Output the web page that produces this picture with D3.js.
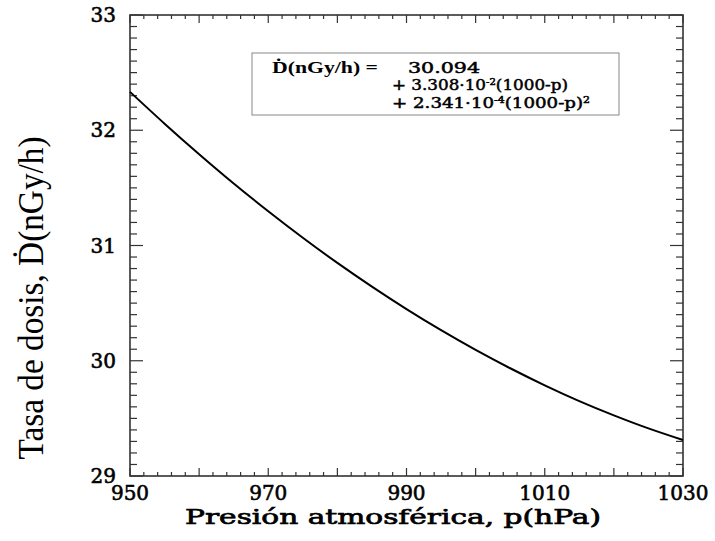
<!DOCTYPE html>
<html>
<head>
<meta charset="utf-8">
<script src="https://cdn.jsdelivr.net/npm/d3@7"></script>
<style>
  body { margin: 0; background: #fff; }
  svg { display: block; }
</style>
</head>
<body>
<div id="chart"></div>
<script>
// pressure (hPa) and dose rate (nGy/h)
const pressure = [950, 955, 960, 965, 970, 975, 980, 985, 990, 995, 1000, 1005, 1010, 1015, 1020, 1025, 1030];
const doseRate = [32.333, 32.057, 31.792, 31.538, 31.297, 31.067, 30.849, 30.643, 30.448, 30.265, 30.094, 29.935, 29.787, 29.650, 29.526, 29.413, 29.312];

const xLabels = [950, 970, 990, 1010, 1030];
const yLabels = [29, 30, 31, 32, 33];

const width = 715, height = 541;
const plotLeft = 130, plotRight = 683, plotTop = 15, plotBottom = 476;

const svg = d3.select("#chart").append("svg")
    .attr("width", width)
    .attr("height", height);

const x = d3.scaleLinear().domain([950, 1030]).range([plotLeft, plotRight]);
const y = d3.scaleLinear().domain([29, 33]).range([plotBottom, plotTop]);

const axisColor = "#333";

// ticks, all pointing inward
const xMinor = d3.range(950, 1031, 2);
const yMinor = d3.range(29, 33.001, 0.1).map(v => +v.toFixed(1));

function isMajorX(v) { return v % 10 === 0; }
function isMajorY(v) { return Math.abs(v - Math.round(v)) < 1e-6; }

const ticks = svg.append("g").attr("stroke", axisColor).attr("stroke-width", 1.2);

// bottom & top
ticks.selectAll(".xb").data(xMinor).enter().append("line")
    .attr("x1", d => x(d)).attr("x2", d => x(d))
    .attr("y1", plotBottom).attr("y2", d => plotBottom - (isMajorX(d) ? 8 : 4));
ticks.selectAll(".xt").data(xMinor).enter().append("line")
    .attr("x1", d => x(d)).attr("x2", d => x(d))
    .attr("y1", plotTop).attr("y2", d => plotTop + (isMajorX(d) ? 8 : 4));

// left & right
ticks.selectAll(".yl").data(yMinor).enter().append("line")
    .attr("y1", d => y(d)).attr("y2", d => y(d))
    .attr("x1", plotLeft).attr("x2", d => plotLeft + (isMajorY(d) ? 13 : 7));
ticks.selectAll(".yr").data(yMinor).enter().append("line")
    .attr("y1", d => y(d)).attr("y2", d => y(d))
    .attr("x1", plotRight).attr("x2", d => plotRight - (isMajorY(d) ? 13 : 7));

// frame
svg.append("rect")
    .attr("x", plotLeft).attr("y", plotTop)
    .attr("width", plotRight - plotLeft).attr("height", plotBottom - plotTop)
    .attr("fill", "none")
    .attr("stroke", axisColor)
    .attr("stroke-width", 1.6);

// tick labels (serif, semi-bold look via thin outline)
svg.append("g").selectAll("text")
    .data(xLabels).enter().append("text")
    .attr("x", d => x(d))
    .attr("y", 500)
    .attr("text-anchor", "middle")
    .attr("font-family", "DejaVu Serif")
    .attr("font-size", "20px")
    .attr("stroke", "#000")
    .attr("stroke-width", 0.6)
    .text(d => d);

svg.append("g").selectAll("text")
    .data(yLabels).enter().append("text")
    .attr("x", 116)
    .attr("y", d => y(d) + 7)
    .attr("text-anchor", "end")
    .attr("font-family", "DejaVu Serif")
    .attr("font-size", "20px")
    .attr("stroke", "#000")
    .attr("stroke-width", 0.6)
    .text(d => d);

// axis titles
svg.append("text")
    .attr("x", 393)
    .attr("y", 524)
    .attr("text-anchor", "middle")
    .attr("font-family", "DejaVu Serif")
    .attr("font-size", "21px")
    .attr("stroke", "#000")
    .attr("stroke-width", 0.7)
    .attr("textLength", 416)
    .attr("lengthAdjust", "spacingAndGlyphs")
    .text("Presión atmosférica, p(hPa)");

svg.append("text")
    .attr("transform", "translate(43,298) rotate(-90)")
    .attr("text-anchor", "middle")
    .attr("font-family", "Liberation Serif")
    .attr("font-size", "35px")
    .attr("textLength", 323)
    .attr("lengthAdjust", "spacingAndGlyphs")
    .text("Tasa de dosis, D\u0307(nGy/h)");

// curve
const line = d3.line()
    .x((d, i) => x(pressure[i]))
    .y(d => y(d))
    .curve(d3.curveNatural);

svg.append("path")
    .datum(doseRate)
    .attr("fill", "none")
    .attr("stroke", "#000")
    .attr("stroke-width", 2)
    .attr("d", line);

// formula box
svg.append("rect")
    .attr("x", 252).attr("y", 53)
    .attr("width", 367).attr("height", 62)
    .attr("fill", "#fff")
    .attr("stroke", "#888")
    .attr("stroke-width", 1);

const box = svg.append("g")
    .attr("font-family", "DejaVu Serif")
    .attr("font-size", "15px")
    .attr("stroke", "#000")
    .attr("stroke-width", 0.5);

box.append("text")
    .attr("x", 272).attr("y", 73)
    .attr("font-family", "Liberation Serif")
    .attr("font-weight", "bold")
    .attr("font-size", "17px")
    .attr("stroke-width", 0)
    .attr("textLength", 106)
    .attr("lengthAdjust", "spacingAndGlyphs")
    .text("D\u0307(nGy/h) =");

box.append("text")
    .attr("x", 408).attr("y", 73)
    .attr("textLength", 72)
    .attr("lengthAdjust", "spacingAndGlyphs")
    .text("30.094");

const l2 = box.append("text")
    .attr("x", 392).attr("y", 90)
    .attr("textLength", 176)
    .attr("lengthAdjust", "spacingAndGlyphs");
l2.append("tspan").text("+ 3.308·10");
l2.append("tspan").attr("font-size", "9px").attr("dy", -5).text("-2");
l2.append("tspan").attr("dy", 5).text("(1000-p)");

const l3 = box.append("text")
    .attr("x", 392).attr("y", 108)
    .attr("textLength", 198)
    .attr("lengthAdjust", "spacingAndGlyphs");
l3.append("tspan").text("+ 2.341·10");
l3.append("tspan").attr("font-size", "9px").attr("dy", -5).text("-4");
l3.append("tspan").attr("dy", 5).text("(1000-p)");
l3.append("tspan").attr("font-size", "9px").attr("dy", -5).text("2");
</script>
</body>
</html>
